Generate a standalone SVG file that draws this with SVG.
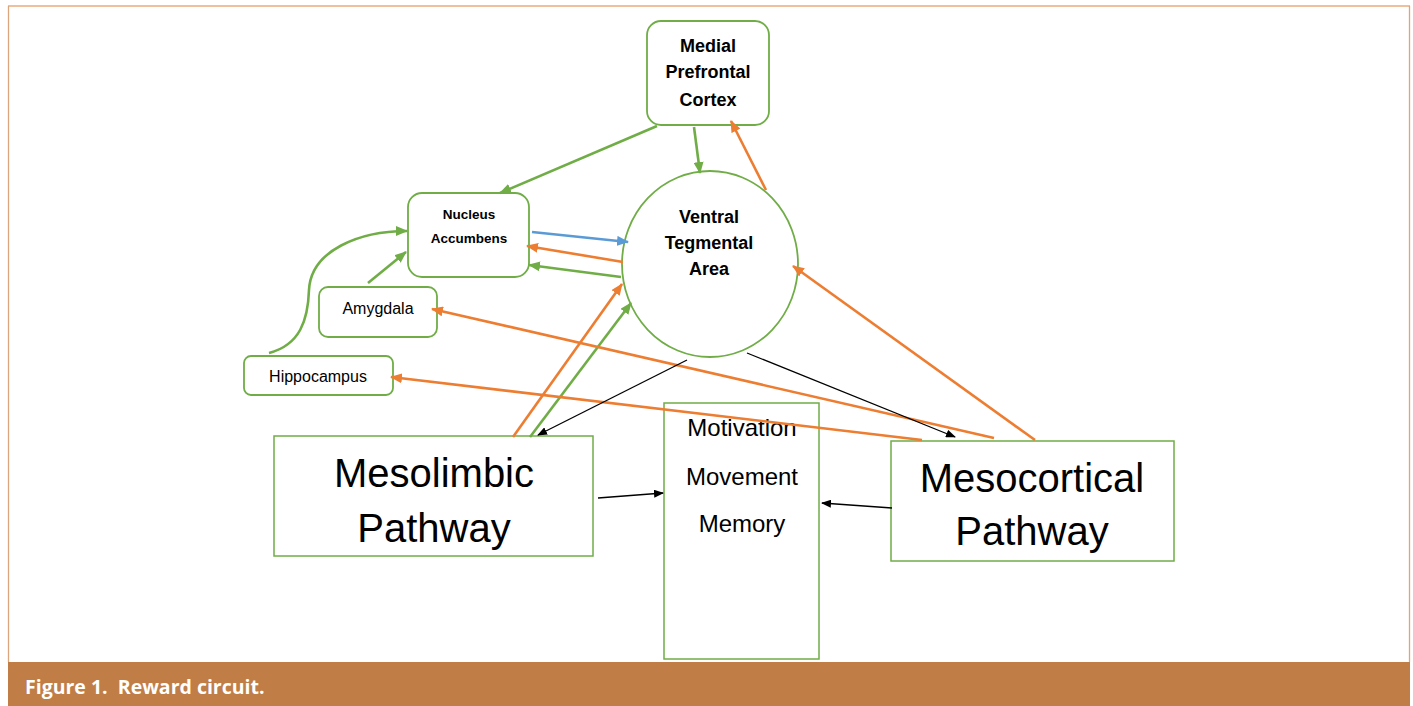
<svg xmlns="http://www.w3.org/2000/svg" width="1413" height="706" viewBox="0 0 1413 706">
<style>
.node{fill:#fff;stroke:#70ad47;stroke-width:1.8}
.box{fill:#fff;stroke:#70ad47;stroke-width:1.5}
.tb{font-family:"Liberation Sans",Arial,sans-serif;font-weight:bold;fill:#000;text-anchor:middle}
.tn{font-family:"Liberation Sans",Arial,sans-serif;fill:#000;text-anchor:middle}
.g{stroke:#70ad47;stroke-width:2.6;fill:none;marker-end:url(#ag)}
.o{stroke:#ed7d31;stroke-width:2.6;fill:none;marker-end:url(#ao)}
.b{stroke:#5b9bd5;stroke-width:2.6;fill:none;marker-end:url(#ab)}
.k{stroke:#000;stroke-width:1.3;fill:none;marker-end:url(#ak)}
</style>
<defs>
<marker id="ag" markerUnits="userSpaceOnUse" markerWidth="12" markerHeight="10" refX="11" refY="5" orient="auto"><path d="M0,0 L12,5 L0,10 z" fill="#70ad47"/></marker>
<marker id="ao" markerUnits="userSpaceOnUse" markerWidth="12" markerHeight="10" refX="11" refY="5" orient="auto"><path d="M0,0 L12,5 L0,10 z" fill="#ed7d31"/></marker>
<marker id="ab" markerUnits="userSpaceOnUse" markerWidth="12" markerHeight="10" refX="11" refY="5" orient="auto"><path d="M0,0 L12,5 L0,10 z" fill="#5b9bd5"/></marker>
<marker id="ak" markerUnits="userSpaceOnUse" markerWidth="10" markerHeight="8" refX="9" refY="4" orient="auto"><path d="M0,0 L10,4 L0,8 z" fill="#000"/></marker>
</defs>
<rect width="1413" height="706" fill="#fff"/>
<g id="frame">
<line x1="8" y1="6" x2="1410" y2="6" stroke="#e2803e" stroke-width="1.2"/>
<line x1="8.5" y1="6" x2="8.5" y2="662" stroke="#dca67c" stroke-width="1.3"/>
<line x1="1409.5" y1="6" x2="1409.5" y2="662" stroke="#dca67c" stroke-width="1.3"/>
<rect x="8" y="662" width="1402" height="44" fill="#c07d45"/>
<text x="25" y="694" font-family="'Open Sans','Liberation Sans',Arial,sans-serif" font-weight="bold" font-size="19.5" fill="#fff" xml:space="preserve">Figure 1.  Reward circuit.</text>
</g>
<g id="mpfc">
<rect class="node" x="647" y="21" width="122" height="104" rx="14"/>
<text class="tb" font-size="18" x="708" y="52">Medial</text>
<text class="tb" font-size="18" x="708" y="78">Prefrontal</text>
<text class="tb" font-size="18" x="708" y="106">Cortex</text>
</g>
<g id="vta">
<ellipse class="node" cx="710" cy="264" rx="88" ry="93"/>
<text class="tb" font-size="18" x="709" y="223">Ventral</text>
<text class="tb" font-size="18" x="709" y="249">Tegmental</text>
<text class="tb" font-size="18" x="709" y="275">Area</text>
</g>
<g id="nacc">
<rect class="node" x="408" y="193" width="121" height="84" rx="14"/>
<text class="tb" font-size="13.5" x="469" y="219">Nucleus</text>
<text class="tb" font-size="13.5" x="469" y="243">Accumbens</text>
</g>
<g id="amygdala">
<rect class="node" x="319" y="287" width="118" height="50" rx="9"/>
<text class="tn" font-size="16" x="378" y="314">Amygdala</text>
</g>
<g id="hippocampus">
<rect class="node" x="244" y="356" width="149" height="39" rx="7"/>
<text class="tn" font-size="16" x="318" y="382">Hippocampus</text>
</g>
<g id="outcomes">
<rect class="box" x="664" y="403" width="155" height="256"/>
<text class="tn" font-size="24" x="742" y="436">Motivation</text>
<text class="tn" font-size="24" x="742" y="485">Movement</text>
<text class="tn" font-size="24" x="742" y="532">Memory</text>
</g>
<g id="mesolimbic">
<rect class="box" x="274" y="436" width="319" height="120"/>
<text class="tn" font-size="40" x="434" y="487">Mesolimbic</text>
<text class="tn" font-size="40" x="434" y="542">Pathway</text>
</g>
<g id="mesocortical">
<rect class="box" x="891" y="441" width="283" height="120"/>
<text class="tn" font-size="40" x="1032" y="492">Mesocortical</text>
<text class="tn" font-size="40" x="1032" y="545">Pathway</text>
</g>
<g id="connectors">
<line class="g" x1="657" y1="126" x2="500" y2="193"/>
<line class="g" x1="694" y1="127" x2="700" y2="173"/>
<line class="g" x1="621" y1="277" x2="529" y2="265"/>
<line class="g" x1="368" y1="283" x2="406" y2="252"/>
<path class="g" d="M269,353 C300,345 308,320 309,290 C311,250 360,231 407,231"/>
<line class="g" x1="530" y1="437" x2="631" y2="303"/>
<line class="o" x1="513" y1="437" x2="622" y2="284"/>
<line class="o" x1="623" y1="262" x2="527" y2="246"/>
<line class="o" x1="766" y1="190" x2="731" y2="121"/>
<line class="o" x1="1035" y1="440" x2="793" y2="266"/>
<line class="o" x1="994" y1="438" x2="432" y2="309"/>
<line class="o" x1="922" y1="440" x2="391" y2="377"/>
<line class="b" x1="532" y1="232" x2="628" y2="242"/>
<line class="k" x1="687" y1="360" x2="538" y2="435"/>
<line class="k" x1="747" y1="353" x2="955" y2="437"/>
<line class="k" x1="598" y1="498" x2="663" y2="493"/>
<line class="k" x1="892" y1="508" x2="822" y2="503"/>
</g>
</svg>
